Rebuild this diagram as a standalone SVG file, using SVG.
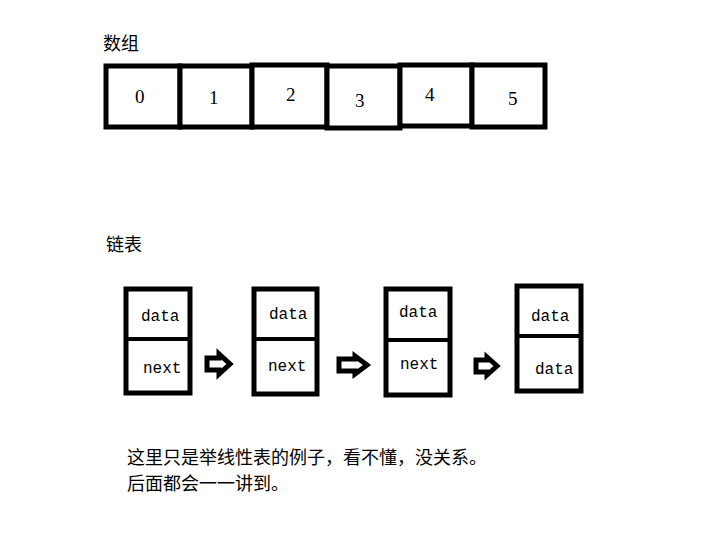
<svg xmlns="http://www.w3.org/2000/svg" width="705" height="557" viewBox="0 0 705 557">
<style>
.c{fill:#fff;stroke:#000;stroke-width:5}
.t{font-family:"Liberation Serif","Noto Sans CJK SC",serif;font-size:19px;fill:#000}
.m{font-family:"Liberation Mono","DejaVu Sans Mono",monospace;font-size:16px;fill:#000}
.z{font-family:"Noto Sans CJK SC",sans-serif;font-size:18px;fill:#000}
.a{fill:#fff;stroke:#000;stroke-width:5;stroke-linejoin:miter}
</style>
<rect width="705" height="557" fill="#fff"/>
<text class="z" x="103" y="50">数组</text>
<g id="array">
<rect class="c" x="106" y="66" width="74" height="61"/>
<rect class="c" x="180" y="66" width="72" height="61"/>
<rect class="c" x="252" y="65" width="75" height="62"/>
<rect class="c" x="327" y="66" width="73" height="62"/>
<rect class="c" x="400" y="65" width="72" height="61"/>
<rect class="c" x="472" y="65" width="73" height="62"/>
<text class="t" x="135" y="103">0</text>
<text class="t" x="209" y="104">1</text>
<text class="t" x="286" y="101">2</text>
<text class="t" x="355" y="107">3</text>
<text class="t" x="425" y="101">4</text>
<text class="t" x="508" y="105">5</text>
</g>
<text class="z" x="106" y="251">链表</text>
<g id="n1"><rect class="c" x="126" y="289" width="64" height="104"/><line x1="126" y1="339" x2="190" y2="339" stroke="#000" stroke-width="4"/><text class="m" x="141" y="321">data</text><text class="m" x="143" y="373">next</text></g>
<g id="n2"><rect class="c" x="254" y="289" width="63" height="105"/><line x1="254" y1="339" x2="317" y2="339" stroke="#000" stroke-width="4"/><text class="m" x="269" y="319">data</text><text class="m" x="268" y="371">next</text></g>
<g id="n3"><rect class="c" x="386" y="289" width="64" height="106"/><line x1="386" y1="340" x2="450" y2="340" stroke="#000" stroke-width="4"/><text class="m" x="399" y="317">data</text><text class="m" x="400" y="369">next</text></g>
<g id="n4"><rect class="c" x="517" y="286" width="64" height="105"/><line x1="517" y1="336" x2="581" y2="336" stroke="#000" stroke-width="4"/><text class="m" x="531" y="321">data</text><text class="m" x="535" y="374">data</text></g>
<g id="connectors">
<path class="a" d="M207,358 h12 v-4 l11,10 l-11,10 v-4 h-12 z"/>
<path class="a" d="M339,359 h16 v-3 l12,9 l-12,9 v-3 h-16 z"/>
<path class="a" d="M476,360 h11 v-3 l10,9 l-10,9 v-3 h-11 z"/>
</g>
<text class="z" x="127" y="464">这里只是举线性表的例子，看不懂，没关系。</text>
<text class="z" x="127" y="490">后面都会一一讲到。</text>
</svg>
